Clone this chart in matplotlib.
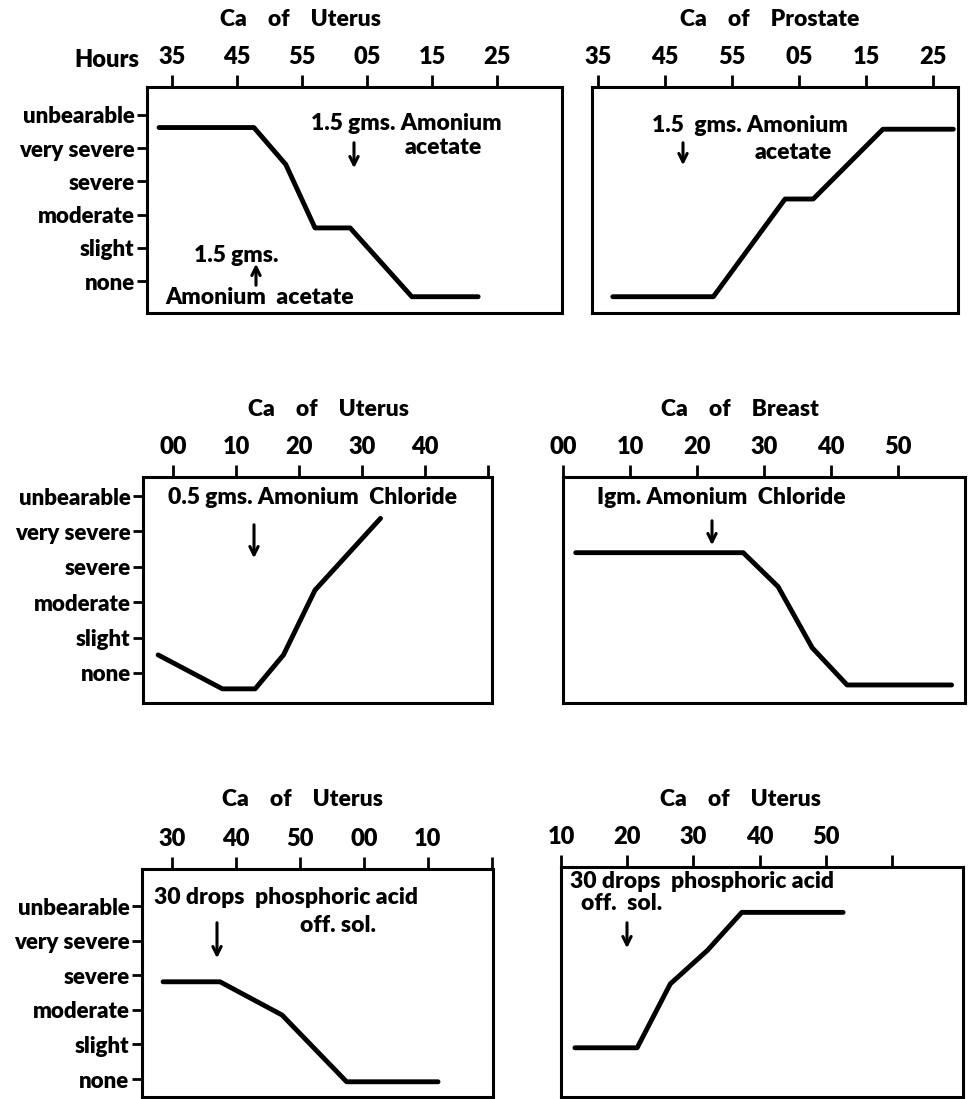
import matplotlib
matplotlib.use("Agg")
import matplotlib.pyplot as plt

plt.rcParams['font.family'] = ['Lato', 'DejaVu Sans']
plt.rcParams['font.weight'] = 'bold'

W, H = 968, 1099
FW = 'heavy'

levels = ["none", "slight", "moderate", "severe", "very severe", "unbearable"]
level_vals = [0, 1, 2, 3, 4, 5]

# Panel 1: Ca of Uterus (minutes, 65 = :05 of next hour)
p1_ticks = [35, 45, 55, 65, 75, 85]
p1_labels = ["35", "45", "55", "05", "15", "25"]
p1_x = [33, 47.6, 52.5, 57, 62.4, 71.9, 82.1]
p1_y = [4.62, 4.62, 3.51, 1.6, 1.6, -0.47, -0.47]

# Panel 2: Ca of Prostate
p2_ticks = [35, 45, 55, 65, 75, 85]
p2_labels = ["35", "45", "55", "05", "15", "25"]
p2_x = [37.2, 52.2, 62.9, 67.1, 77.5, 88]
p2_y = [-0.47, -0.47, 2.47, 2.47, 4.57, 4.57]

# Panel 3: Ca of Uterus
p3_ticks = [0, 10, 20, 30, 40, 50]
p3_labels = ["00", "10", "20", "30", "40", ""]
p3_x = [-2.4, 7.8, 13, 17.5, 22.5, 32.9]
p3_y = [0.51, -0.45, -0.45, 0.51, 2.34, 4.37]

# Panel 4: Ca of Breast
p4_ticks = [0, 10, 20, 30, 40, 50]
p4_labels = ["00", "10", "20", "30", "40", "50"]
p4_x = [1.9, 26.9, 32.1, 37.2, 42.4, 58]
p4_y = [3.4, 3.4, 2.44, 0.71, -0.34, -0.34]

# Panel 5: Ca of Uterus
p5_ticks = [30, 40, 50, 60, 70, 80]
p5_labels = ["30", "40", "50", "00", "10", ""]
p5_x = [28.6, 37.5, 47.2, 57.3, 71.6]
p5_y = [2.81, 2.81, 1.85, -0.08, -0.08]

# Panel 6: Ca of Uterus
p6_ticks = [10, 20, 30, 40, 50, 60]
p6_labels = ["10", "20", "30", "40", "50", ""]
p6_x = [12.1, 21.5, 26.5, 32.1, 37.3, 52.6]
p6_y = [0.89, 0.89, 2.72, 3.68, 4.77, 4.77]

fig = plt.figure(figsize=(W / 100, H / 100), dpi=100)


def fx(px):
    return px / W


def fy(py):
    return 1 - py / H


def make_ax(px, xlim, ylim, ticks, labels, x, y, ylabels):
    x0, x1, y0, y1 = px
    ax = fig.add_axes([x0 / W, 1 - y1 / H, (x1 - x0) / W, (y1 - y0) / H])
    ax.plot(x, y, color='black', lw=3.5, solid_capstyle='round', solid_joinstyle='round')
    ax.set_xlim(*xlim)
    ax.set_ylim(*ylim)
    for s in ax.spines.values():
        s.set_linewidth(2.2)
    ax.xaxis.tick_top()
    ax.set_xticks(ticks)
    ax.set_xticklabels(labels, fontsize=17, fontweight=FW)
    ax.tick_params(axis='x', direction='out', length=9, width=2, pad=5)
    if ylabels:
        ax.set_yticks(level_vals)
        ax.set_yticklabels(levels, fontsize=16, fontweight=FW)
        ax.tick_params(axis='y', direction='out', length=7, width=2, pad=2)
    else:
        ax.set_yticks([])
    return ax


ax1 = make_ax((147, 562, 87, 313), (31.15, 95), (-0.96, 5.84), p1_ticks, p1_labels,
              p1_x, p1_y, True)
ax2 = make_ax((592, 958, 87, 313), (34.1, 88.7), (-0.96, 5.84), p2_ticks, p2_labels,
              p2_x, p2_y, False)
ax3 = make_ax((143, 492, 477, 703), (-4.8, 50.6), (-0.85, 5.54), p3_ticks, p3_labels,
              p3_x, p3_y, True)
ax4 = make_ax((563, 965, 477, 703), (0, 60), (-0.85, 5.54), p4_ticks, p4_labels,
              p4_x, p4_y, False)
ax5 = make_ax((142, 493, 869, 1097), (25.3, 80.2), (-0.52, 6.07), p5_ticks, p5_labels,
              p5_x, p5_y, True)
ax6 = make_ax((561, 963, 867, 1097), (10, 70.7), (-0.52, 6.07), p6_ticks, p6_labels,
              p6_x, p6_y, False)

tt = dict(fontsize=16.5, fontweight=FW, ha='center', va='center')
fig.text(fx(300), fy(19), "Ca    of    Uterus", **tt)
fig.text(fx(770), fy(20), "Ca    of    Prostate", **tt)
fig.text(fx(328), fy(410), "Ca    of    Uterus", **tt)
fig.text(fx(740), fy(410), "Ca    of    Breast", **tt)
fig.text(fx(302), fy(800), "Ca    of    Uterus", **tt)
fig.text(fx(740), fy(800), "Ca    of    Uterus", **tt)

fig.text(fx(107), fy(60), "Hours", fontsize=17, fontweight=FW, ha='center', va='center')

tk = dict(fontsize=16.5, fontweight=FW, color='black', ha='center', va='center')


def note(cx, cy, s):
    fig.text(fx(cx), fy(cy), s, **tk)


def arr(x, ystart, yend):
    fig.add_artist(matplotlib.patches.FancyArrowPatch(
        (fx(x), fy(ystart)), (fx(x), fy(yend)), transform=fig.transFigure,
        arrowstyle='->', lw=2.2, color='black', mutation_scale=15))


# Panel 1 annotations
note(406, 123, "1.5 gms. Amonium")
note(443, 147, "acetate")
arr(354, 140, 171)
note(236, 255, "1.5 gms.")
arr(256, 288, 261)
note(260, 297, "Amonium  acetate")

# Panel 2 annotations
note(750, 125, "1.5  gms. Amonium")
note(793, 152, "acetate")
arr(683, 140, 168)

# Panel 3 annotations
note(312, 497, "0.5 gms. Amonium  Chloride")
arr(254, 522, 561)

# Panel 4 annotations
note(721, 498, "Igm. Amonium  Chloride")
arr(712, 518, 548)

# Panel 5 annotations
note(286, 898, "30 drops  phosphoric acid")
note(338, 925, "off. sol.")
arr(217, 920, 961)

# Panel 6 annotations
note(702, 882, "30 drops  phosphoric acid")
note(622, 903, "off.  sol.")
arr(627, 920, 951)

fig.savefig("out.png", dpi=100)
